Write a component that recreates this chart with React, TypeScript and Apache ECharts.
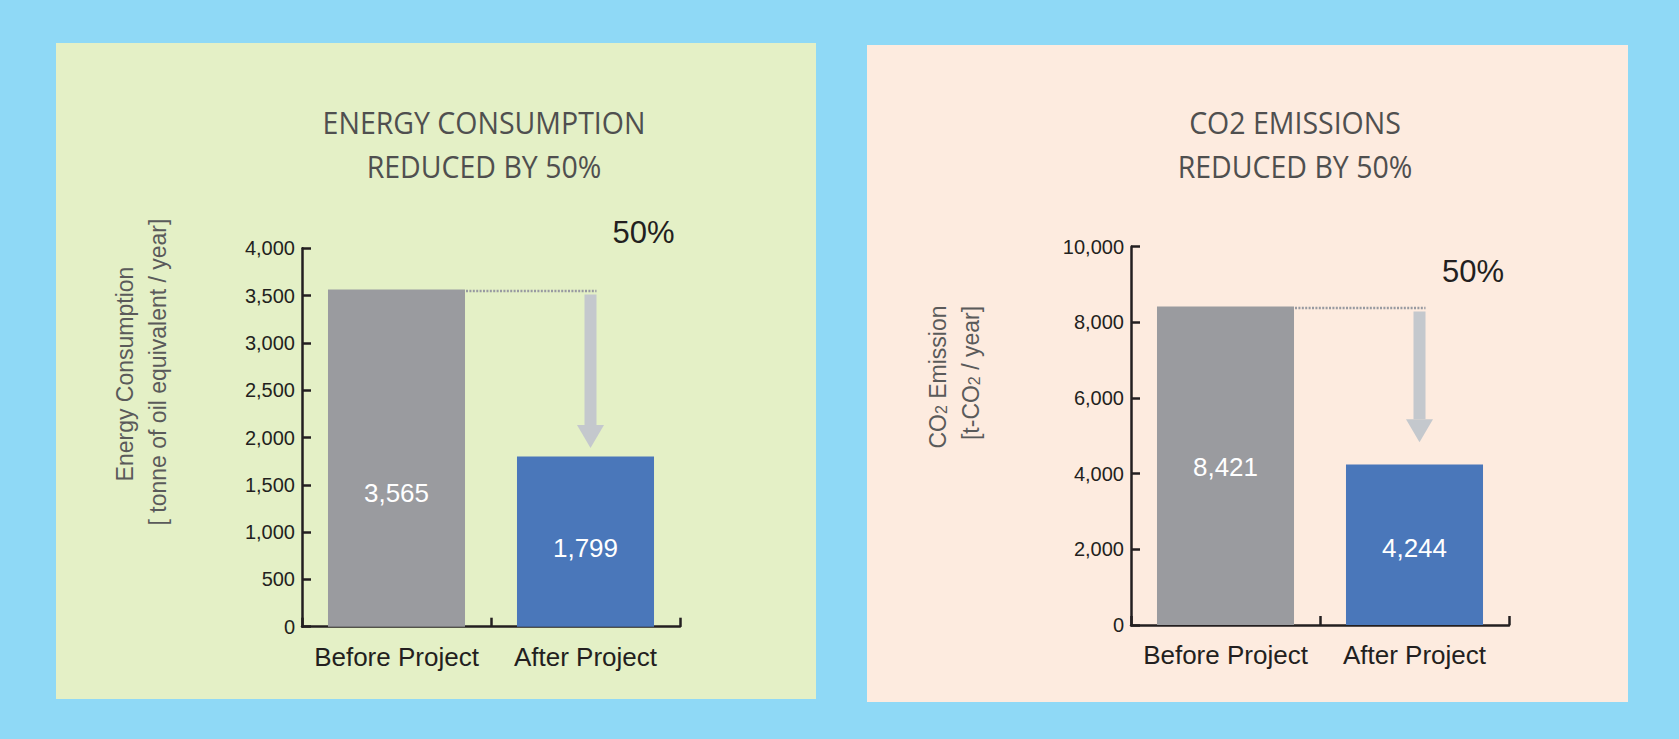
import React, { useEffect, useRef } from 'react';
import * as echarts from 'echarts';

// ---- data ----
const categories = ['Before Project', 'After Project'];
const energyValues = [3565, 1799];
const co2Values = [8421, 4244];
const energyMax = 4000;
const energyInterval = 500;
const co2Max = 10000;
const co2Interval = 2000;
const reductionLabels = ['50%', '50%'];
// value (on each chart's y axis) where the grey arrow tip ends
const arrowTipValues = [1890, 4830];
const chartTitles = ['ENERGY CONSUMPTION\nREDUCED BY 50%', 'CO2 EMISSIONS\nREDUCED BY 50%'];

const BAR_COLORS = ['#9A9B9F', '#4A77BA'];
const AXIS_COLOR = '#231F20';
const BAR_RATIO = 0.725;
const FONT = '"Liberation Sans", Arial, Helvetica, sans-serif';
const TITLE_FONT = '"Open Sans", "Noto Sans", sans-serif';

const fmt = (v: number) => Number(v).toLocaleString('en-US');

const renderArrow = (params: any, api: any) => {
  const top = api.value(1);
  const tip = api.value(2);
  const p0 = api.coord([0, top]);
  const p1 = api.coord([1, top]);
  const band = api.size([1, 0])[0];
  const barHalf = (band * BAR_RATIO) / 2;
  const tipY = api.coord([1, tip])[1];
  const ax = p1[0] + 5;
  const shaftTop = p0[1] + 5;
  const headLen = 23;
  const color = '#C4C8CD';
  return {
    type: 'group',
    children: [
      {
        type: 'line',
        shape: { x1: p0[0] + barHalf + 1, y1: p0[1] + 1.5, x2: ax + 6, y2: p0[1] + 1.5 },
        style: { stroke: '#989AA1', lineWidth: 2.5, lineDash: [2, 1.4] },
      },
      {
        type: 'rect',
        shape: { x: ax - 6, y: shaftTop, width: 12, height: tipY - headLen - shaftTop },
        style: { fill: color },
      },
      {
        type: 'polygon',
        shape: { points: [[ax - 13.5, tipY - headLen], [ax + 13.5, tipY - headLen], [ax, tipY]] },
        style: { fill: color },
      },
    ],
  };
};

function buildOption() {
  const grids = [
    { left: 302, top: 248.3, width: 378, height: 378.4 },
    { left: 1131, top: 246.7, width: 378, height: 378.3 },
  ];
  const xAxisBase = (gridIndex: number) => ({
    type: 'category',
    gridIndex,
    data: categories,
    boundaryGap: true,
    axisLine: { lineStyle: { color: AXIS_COLOR, width: 2.5 } },
    axisTick: { show: true, interval: 0, inside: true, length: 9, lineStyle: { color: AXIS_COLOR, width: 2.5 } },
    axisLabel: { interval: 0, color: AXIS_COLOR, fontSize: 26, fontFamily: FONT, margin: 17, hideOverlap: false },
    splitLine: { show: false },
  });
  const yAxisBase = (gridIndex: number, max: number, interval: number) => ({
    type: 'value',
    gridIndex,
    min: 0,
    max,
    interval,
    axisLine: { show: true, lineStyle: { color: AXIS_COLOR, width: 2.5 } },
    axisTick: { show: true, inside: true, length: 9, lineStyle: { color: AXIS_COLOR, width: 2.5 } },
    axisLabel: { color: AXIS_COLOR, fontSize: 20, fontFamily: FONT, margin: 7, formatter: fmt },
    splitLine: { show: false },
  });

  const labelPositions = [
    [['50%', '60.5%'], ['50%', '53.5%']],
    [['50%', '50.4%'], ['50%', '52%']],
  ];
  const barData = (vals: number[], chart: number) =>
    vals.map((v, i) => ({
      value: v,
      itemStyle: { color: BAR_COLORS[i] },
      label: { position: labelPositions[chart][i] },
    }));
  const barSeries = (vals: number[], chart: number) => ({
    type: 'bar',
    xAxisIndex: chart,
    yAxisIndex: chart,
    barWidth: BAR_RATIO * 100 + '%',
    data: barData(vals, chart),
    label: {
      show: true,
      color: '#FFFFFF',
      fontSize: 26,
      fontFamily: FONT,
      align: 'center',
      verticalAlign: 'middle',
      formatter: (p: any) => fmt(p.value),
    },
    silent: true,
  });
  const arrowSeries = (vals: number[], chart: number) => ({
    type: 'custom',
    xAxisIndex: chart,
    yAxisIndex: chart,
    renderItem: renderArrow,
    encode: { x: 0, y: 1 },
    data: [[0, vals[0], arrowTipValues[chart]]],
    silent: true,
    z: 3,
  });

  const titleText = (text: string, x: number) => ({
    type: 'text',
    x,
    y: 144,
    scaleX: 0.92,
    z: 10,
    style: {
      text,
      align: 'center',
      verticalAlign: 'middle',
      fontSize: 31,
      lineHeight: 44,
      fontFamily: TITLE_FONT,
      fill: '#4F4F4F',
    },
  });
  const nameText = (text: string, x: number, y: number, rich?: any) => ({
    type: 'text',
    x,
    y,
    rotation: Math.PI / 2,
    z: 10,
    style: {
      text,
      align: 'center',
      verticalAlign: 'middle',
      fontSize: 23,
      fontFamily: FONT,
      fill: '#5A5A5A',
      rich,
    },
  });
  const subRich = {
    sub: { fontSize: 16, fontFamily: FONT, fill: '#5A5A5A', verticalAlign: 'bottom', lineHeight: 23 },
  };
  const pctText = (text: string, x: number, y: number) => ({
    type: 'text',
    x,
    y,
    z: 10,
    style: {
      text,
      align: 'center',
      verticalAlign: 'middle',
      fontSize: 31,
      fontFamily: FONT,
      fill: '#231F20',
    },
  });

  return {
    animation: false,
    backgroundColor: '#8FD9F6',
    grid: grids,
    xAxis: [xAxisBase(0), xAxisBase(1)],
    yAxis: [yAxisBase(0, energyMax, energyInterval), yAxisBase(1, co2Max, co2Interval)],
    series: [
      barSeries(energyValues, 0),
      barSeries(co2Values, 1),
      arrowSeries(energyValues, 0),
      arrowSeries(co2Values, 1),
    ],
    graphic: {
      elements: [
        { type: 'rect', z: -10, shape: { x: 56, y: 43, width: 760, height: 656 }, style: { fill: '#E4F0C6' } },
        { type: 'rect', z: -10, shape: { x: 867, y: 45, width: 761, height: 657 }, style: { fill: '#FDEBDF' } },
        titleText(chartTitles[0], 484),
        titleText(chartTitles[1], 1295),
        nameText('Energy Consumption', 125, 374),
        nameText('[ tonne of oil equivalent / year]', 158, 372),
        nameText('CO{sub|2} Emission', 938, 377, subRich),
        nameText('[t-CO{sub|2} / year]', 971, 373, subRich),
        pctText(reductionLabels[0], 643.5, 232.5),
        pctText(reductionLabels[1], 1473, 271.5),
      ],
    },
  };
}

export default function App() {
  const ref = useRef<HTMLDivElement>(null);
  useEffect(() => {
    if (!ref.current) return;
    const chart = echarts.init(ref.current, undefined, { renderer: 'svg' });
    chart.setOption(buildOption() as any);
    return () => chart.dispose();
  }, []);
  return (
    <div
      ref={ref}
      style={{ position: 'fixed', left: 0, top: 0, width: 1679, height: 739 }}
    />
  );
}
